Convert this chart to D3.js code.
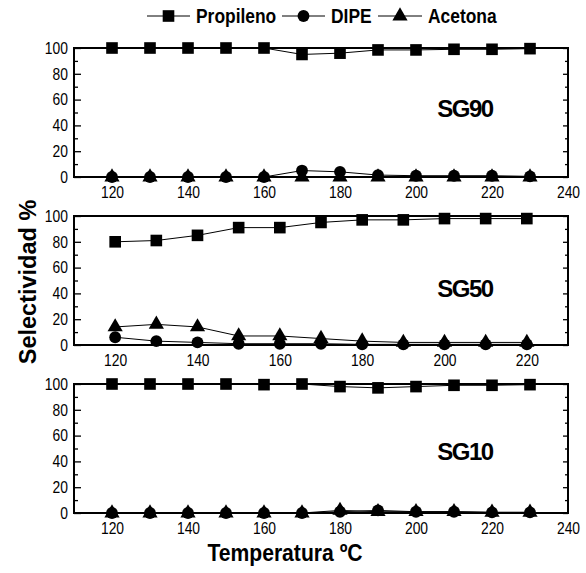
<!DOCTYPE html>
<html>
<head>
<meta charset="utf-8">
<script src="https://cdn.jsdelivr.net/npm/d3@7"></script>
<style>
  body { margin: 0; background: #fff; }
  text { font-family: "Liberation Sans", Arial, sans-serif; fill: #000; }
</style>
</head>
<body>
<div id="chart"></div>
<script>
// Data
const tempsLong = [120, 130, 140, 150, 160, 170, 180, 190, 200, 210, 220, 230];
const tempsShort = [120, 130, 140, 150, 160, 170, 180, 190, 200, 210, 220];

const sg90Propileno = [100, 100, 100, 100, 100, 95, 96, 98.5, 98.5, 99, 99, 99.5];
const sg90Dipe = [0, 0, 0, 0, 0, 5, 4, 1.5, 1, 1, 1, 0.5];
const sg90Acetona = [0, 0, 0, 0, 0, 0, 0, 0, 0, 0, 0, 0];

const sg50Propileno = [80, 81, 85, 91, 91, 95, 97, 97, 98, 98, 98];
const sg50Dipe = [6, 3, 2, 1, 1, 1, 0.5, 0.5, 0.5, 0.5, 0.5];
const sg50Acetona = [14, 16, 14, 7, 7, 5, 3, 2, 2, 2, 2];

const sg10Propileno = [100, 100, 100, 100, 99.5, 100, 98, 97, 98, 99, 99, 99.5];
const sg10Dipe = [0, 0, 0, 0, 0, 0, 1, 2, 1, 1, 0.5, 0.5];
const sg10Acetona = [0, 0, 0, 0, 0, 0, 2, 1, 1, 1, 0.5, 0.5];

const seriesNames = ['Propileno', 'DIPE', 'Acetona'];
const yMajorTicks = [0, 20, 40, 60, 80, 100];
const yMinorTicks = [10, 30, 50, 70, 90];

const panels = [
  { label: 'SG90', temps: tempsLong, xMax: 240, xTicks: [120, 140, 160, 180, 200, 220, 240],
    series: [sg90Propileno, sg90Dipe, sg90Acetona] },
  { label: 'SG50', temps: tempsShort, xMax: 230, xTicks: [120, 140, 160, 180, 200, 220],
    series: [sg50Propileno, sg50Dipe, sg50Acetona] },
  { label: 'SG10', temps: tempsLong, xMax: 240, xTicks: [120, 140, 160, 180, 200, 220, 240],
    series: [sg10Propileno, sg10Dipe, sg10Acetona] }
];

//Chart dimensions
const W = 586, H = 573;
const margin = { left: 74, right: 18 };
const width = W - margin.left - margin.right;
const panelHeight = 129;
const panelTops = [48, 216, 384];
const labelY = [117, 297, 460];

const symbols = [
  d3.symbol().type(d3.symbolSquare).size(135),
  d3.symbol().type(d3.symbolCircle).size(110),
  d3.symbol().type(d3.symbolTriangle).size(100)
];

// squeeze text horizontally, the original uses a narrow face
function condense(sel, factor) {
  sel.each(function () {
    const len = this.getComputedTextLength();
    d3.select(this)
      .attr('textLength', len * factor)
      .attr('lengthAdjust', 'spacingAndGlyphs');
  });
}

const svg = d3.select('#chart').append('svg')
  .attr('width', W)
  .attr('height', H);

panels.forEach(function (p, i) {
  const g = svg.append('g')
    .attr('transform', `translate(${margin.left}, ${panelTops[i]})`);

  const xScale = d3.scaleLinear().domain([110, p.xMax]).range([0, width]);
  const yScale = d3.scaleLinear().domain([0, 100]).range([panelHeight, 0]);

  // y axis, ticks pointing inwards
  const yAxis = g.append('g')
    .call(d3.axisLeft(yScale).tickValues(yMajorTicks).tickSizeInner(-7).tickSizeOuter(0).tickPadding(6));
  yAxis.selectAll('text').style('font-size', '16.5px').call(condense, 0.84);
  const yMinor = g.append('g')
    .call(d3.axisLeft(yScale).tickValues(yMinorTicks).tickSizeInner(-4).tickSizeOuter(0).tickFormat(''));
  const yRight = g.append('g')
    .attr('transform', `translate(${width}, 0)`)
    .call(d3.axisRight(yScale).tickValues(yMajorTicks).tickSizeInner(-5).tickSizeOuter(0).tickFormat(''));
  const yRightMinor = g.append('g')
    .attr('transform', `translate(${width}, 0)`)
    .call(d3.axisRight(yScale).tickValues(yMinorTicks).tickSizeInner(-3).tickSizeOuter(0).tickFormat(''));

  // x axis, labels only
  const xAxis = g.append('g')
    .attr('transform', `translate(0, ${panelHeight})`)
    .call(d3.axisBottom(xScale).tickValues(p.xTicks).tickSize(0).tickPadding(9));
  xAxis.selectAll('text').style('font-size', '16.5px').call(condense, 0.84);

  [yAxis, yMinor, yRight, yRightMinor, xAxis].forEach(function (a) {
    a.select('.domain').remove();
    a.selectAll('line').attr('stroke', '#000').attr('stroke-width', 1.3);
  });

  // frame
  g.append('rect')
    .attr('width', width)
    .attr('height', panelHeight)
    .attr('fill', 'none')
    .attr('stroke', '#000')
    .attr('stroke-width', 2);

  // lines
  const line = d3.line()
    .x(function (d) { return xScale(d.t); })
    .y(function (d) { return yScale(d.v); });

  const seriesData = p.series.map(function (vals) {
    return vals.map(function (v, k) { return { t: p.temps[k], v: v }; });
  });

  seriesData.forEach(function (data) {
    g.append('path')
      .attr('d', line(data))
      .attr('fill', 'none')
      .attr('stroke', '#000')
      .attr('stroke-width', 1);
  });

  // markers
  seriesData.forEach(function (data, s) {
    g.selectAll(null)
      .data(data)
      .enter().append('path')
      .attr('d', symbols[s])
      .attr('transform', function (d) { return `translate(${xScale(d.t)}, ${yScale(d.v)})`; })
      .attr('fill', '#000');
  });

  // panel label
  svg.append('text')
    .attr('x', 465)
    .attr('y', labelY[i])
    .attr('text-anchor', 'middle')
    .style('font-size', '24px')
    .style('font-weight', 'bold')
    .style('letter-spacing', '-1.5px')
    .text(p.label);
});

// Legend
const legendItems = [
  { x1: 147, x2: 190, tx: 196 },
  { x1: 282, x2: 325, tx: 331 },
  { x1: 378, x2: 422, tx: 428 }
];
const legend = svg.append('g').attr('class', 'legend');
seriesNames.forEach(function (name, s) {
  const it = legendItems[s];
  legend.append('line')
    .attr('x1', it.x1).attr('x2', it.x2)
    .attr('y1', 16).attr('y2', 16)
    .attr('stroke', '#000').attr('stroke-width', 1);
  legend.append('path')
    .attr('d', symbols[s])
    .attr('transform', `translate(${(it.x1 + it.x2) / 2}, 16)`)
    .attr('fill', '#000');
  legend.append('text')
    .attr('x', it.tx)
    .attr('y', 23)
    .style('font-size', '20px')
    .style('font-weight', 'bold')
    .text(name)
    .call(condense, 0.87);
});

// Axis titles
svg.append('text')
  .attr('transform', 'translate(36, 282) rotate(-90)')
  .attr('text-anchor', 'middle')
  .style('font-size', '23.5px')
  .style('font-weight', 'bold')
  .text('Selectividad %');

svg.append('text')
  .attr('x', 285)
  .attr('y', 561)
  .attr('text-anchor', 'middle')
  .style('font-size', '24px')
  .style('font-weight', 'bold')
  .text('Temperatura ºC')
  .call(condense, 0.88);
</script>
</body>
</html>
